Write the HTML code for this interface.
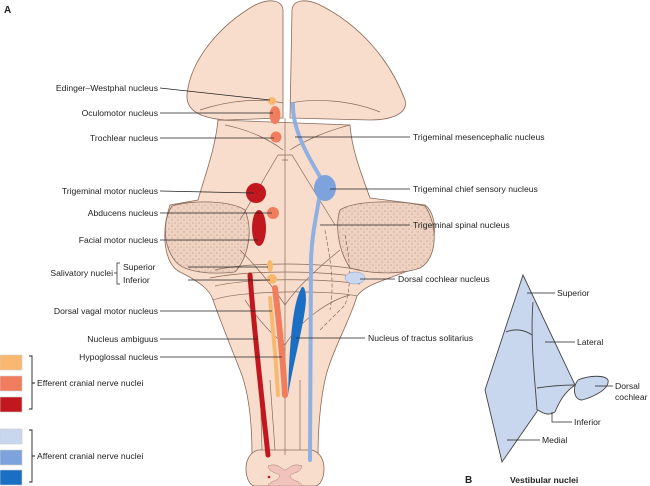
<!DOCTYPE html>
<html><head><meta charset="utf-8"><style>
html,body{margin:0;padding:0;background:#fff;width:650px;height:486px;overflow:hidden}
svg{display:block}
text{font-family:"Liberation Sans",sans-serif;font-size:8.6px;fill:#222}
</style></head><body>
<svg width="650" height="486" viewBox="0 0 650 486" xmlns="http://www.w3.org/2000/svg">
<defs>
<pattern id="st" width="6" height="6" patternUnits="userSpaceOnUse">
<rect width="6" height="6" fill="#efd2c2"/>
<circle cx="1" cy="1" r="0.6" fill="#b89888"/><circle cx="4" cy="4" r="0.6" fill="#b89888"/><circle cx="4" cy="1.5" r="0.4" fill="#c8a898"/>
</pattern>
</defs>
<g stroke="#8a6a5a" stroke-width="0.8" fill="#f8ddcc">
<!-- body -->
<path d="M218,120 C215,150 205,175 198,200 L170,205 C160,235 165,265 180,272 C200,282 210,290 213,300 C220,320 228,340 240,370 C248,390 252,420 252,455 L318,455 C318,420 322,390 327,372 C335,345 350,320 357,296 C365,285 380,282 405,272 C440,262 440,215 425,205 L370,198 C360,170 352,150 350,125 Z"/>
<path d="M258,450 C240,455 245,486 255,486 L315,486 C325,486 330,455 312,450 Z"/>
<!-- top lobes -->
<path d="M283,118 L283,10 C282,0 270,-2 255,5 C220,25 190,60 187,95 C186,110 200,118 225,120 Z"/>
<path d="M290,118 L292,10 C293,0 305,-2 320,5 C360,25 390,60 405,100 C408,112 395,120 370,120 Z"/>
</g>
<!-- stippled peduncles -->
<g stroke="#8a6a5a" stroke-width="0.8" fill="url(#st)">
<path d="M172,206 C190,200 230,200 245,210 C255,235 245,262 235,272 C210,275 185,272 176,262 C162,245 163,220 172,206 Z"/>
<path d="M340,210 C355,200 400,200 425,206 C438,225 438,258 420,268 C400,275 370,274 350,268 C338,250 335,225 340,210 Z"/>
</g>
<!-- internal lines -->
<g stroke="#8a6a5a" stroke-width="0.7" fill="none">
<line x1="285" y1="118" x2="285" y2="455"/>
<path d="M200,110 C230,100 260,98 283,103 M290,103 C315,98 350,100 380,112"/>
<path d="M225,125 C250,130 270,140 283,150 M290,150 C305,140 330,130 350,125"/>
<path d="M278,155 L292,155 L335,225 M278,155 L240,220 M282,160 L288,160"/>
<path d="M215,270 C250,262 320,262 360,270 M210,278 C250,270 320,270 365,278 M215,286 C250,278 320,278 360,284"/>
<path d="M213,300 C240,290 330,290 357,296"/>
<path d="M240,250 C260,270 275,290 285,305 C295,290 315,270 340,250"/>
<path d="M245,300 C265,330 280,340 285,345 C300,320 330,300 350,295" stroke-dasharray="0"/>
<path d="M325,230 C330,260 335,280 330,310 M345,235 C350,260 352,285 345,305 L320,330" stroke-dasharray="4,2"/>
<path d="M260,380 L262,450 M300,380 L300,450 M270,380 L275,450"/>
</g>
<!-- spinal cord section -->
<path d="M268,466 C278,462 282,470 285,470 C288,470 292,462 302,466 C300,474 292,472 290,476 C292,482 300,480 302,486 L268,486 C270,480 278,482 280,476 C278,472 270,474 268,466 Z" fill="#f0c4bc" stroke="#a08070" stroke-width="0.5"/>
<circle cx="269" cy="477" r="1.3" fill="#c0181e"/>
<!-- nuclei -->
<g stroke="none">
<path d="M250,275 C254,330 262,400 268,455" stroke="#c0181e" stroke-width="5" fill="none" stroke-linecap="round"/>
<path d="M275,288 C280,330 283,360 285,395" stroke="#f07e5e" stroke-width="6" fill="none" stroke-linecap="round"/>
<path d="M270,298 C273,330 276,360 278,395" stroke="#f9b870" stroke-width="4" fill="none" stroke-linecap="round"/>
<ellipse cx="272" cy="101" rx="4" ry="4" fill="#f9b870"/>
<ellipse cx="275" cy="115" rx="5.5" ry="9" fill="#f07e5e"/>
<circle cx="276" cy="137" r="5.5" fill="#f07e5e"/>
<circle cx="256" cy="193" r="10" fill="#c0181e"/>
<circle cx="273" cy="213" r="6" fill="#f07e5e"/>
<ellipse cx="259" cy="228" rx="7" ry="18" fill="#c0181e"/>
<ellipse cx="270" cy="266" rx="3" ry="6" fill="#f9b870"/>
<circle cx="272" cy="279" r="5" fill="#f9b870"/>
<path d="M293,104 C292,130 310,160 322,180 C318,210 312,230 311,260 L310,460" stroke="#8fb0e0" stroke-width="4" fill="none" stroke-linecap="round"/>
<ellipse cx="325" cy="188" rx="11" ry="13" fill="#7ea3dc"/>
<path d="M302,287 C294,300 290,330 288,395 C294,360 305,320 306,300 C306,290 304,286 302,287 Z" fill="#1a6fc4"/>
<ellipse cx="355" cy="278" rx="10" ry="6" fill="#c8d6ee" stroke="#8a9ab8" stroke-width="0.5"/>
</g>
<!-- leader lines -->
<g stroke="#222" stroke-width="0.7" fill="none">
<line x1="160" y1="88" x2="270" y2="100"/>
<line x1="160" y1="113" x2="273" y2="113"/>
<line x1="160" y1="138" x2="274" y2="138"/>
<line x1="160" y1="191" x2="254" y2="193"/>
<line x1="160" y1="213" x2="272" y2="213"/>
<line x1="160" y1="240" x2="258" y2="240"/>
<line x1="188" y1="267" x2="268" y2="267"/>
<line x1="188" y1="280" x2="270" y2="280"/>
<line x1="160" y1="311" x2="272" y2="311"/>
<line x1="160" y1="339" x2="258" y2="339"/>
<line x1="160" y1="357" x2="282" y2="357"/>
<line x1="410" y1="137" x2="295" y2="137"/>
<line x1="410" y1="189" x2="330" y2="189"/>
<line x1="410" y1="225" x2="320" y2="225"/>
<line x1="395" y1="279" x2="360" y2="279"/>
<line x1="365" y1="338" x2="296" y2="338"/>
<path d="M120,263 L117,263 L117,284 L120,284 M117,273 L114,273"/>
</g>
<g text-anchor="end">
<text x="158" y="91">Edinger–Westphal nucleus</text>
<text x="158" y="116">Oculomotor nucleus</text>
<text x="158" y="141">Trochlear nucleus</text>
<text x="158" y="194">Trigeminal motor nucleus</text>
<text x="158" y="216">Abducens nucleus</text>
<text x="158" y="243">Facial motor nucleus</text>
<text x="113" y="276">Salivatory nuclei</text>
<text x="158" y="314">Dorsal vagal motor nucleus</text>
<text x="158" y="342">Nucleus ambiguus</text>
<text x="158" y="360">Hypoglossal nucleus</text>
</g>
<text x="123" y="270">Superior</text>
<text x="123" y="283">Inferior</text>
<text x="413" y="140">Trigeminal mesencephalic nucleus</text>
<text x="413" y="192">Trigeminal chief sensory nucleus</text>
<text x="413" y="228">Trigeminal spinal nucleus</text>
<text x="398" y="282">Dorsal cochlear nucleus</text>
<text x="368" y="341">Nucleus of tractus solitarius</text>
<text x="4" y="13" style="font-weight:bold;font-size:10px">A</text>
<!-- legend -->
<g stroke="#ccc" stroke-width="0.6">
<rect x="0" y="355" width="22" height="15" fill="#f9b870"/>
<rect x="0" y="376" width="22" height="15" fill="#f07e5e"/>
<rect x="0" y="397" width="22" height="15" fill="#c0181e"/>
<rect x="0" y="429" width="22" height="15" fill="#c8d6ee"/>
<rect x="0" y="450" width="22" height="15" fill="#7ea3dc"/>
<rect x="0" y="470" width="22" height="15" fill="#1a6fc4"/>
</g>
<g stroke="#222" stroke-width="0.9" fill="none">
<path d="M29,356 L32,356 L32,409 L29,409 M32,383 L35,383"/>
<path d="M29,430 L32,430 L32,482 L29,482 M32,456 L35,456"/>
</g>
<text x="37" y="386">Efferent cranial nerve nuclei</text>
<text x="37" y="459">Afferent cranial nerve nuclei</text>
<!-- panel B -->
<g stroke="#444" stroke-width="0.9" fill="#c8d6ee">
<path d="M523,275 L575,385 C565,392 560,400 555,412 C550,415 545,415 538,410 L502,462 L485,390 Z"/>
<path d="M578,380 C590,375 605,375 608,380 C610,390 590,398 582,400 C574,400 572,388 578,380 Z"/>
</g>
<g stroke="#444" stroke-width="0.9" fill="none">
<path d="M506,332 C515,328 525,330 532,335"/>
<path d="M533,302 C530,340 535,380 537,410"/>
<path d="M537,388 C550,386 565,385 575,385"/>
</g>
<g stroke="#222" stroke-width="0.7" fill="none">
<line x1="527" y1="293" x2="555" y2="293"/>
<line x1="545" y1="342" x2="575" y2="342"/>
<line x1="595" y1="386" x2="613" y2="386"/>
<path d="M552,412 L552,422 L572,422"/>
<line x1="507" y1="440" x2="540" y2="440"/>
</g>
<text x="557" y="296">Superior</text>
<text x="577" y="345">Lateral</text>
<text x="615" y="389">Dorsal</text>
<text x="615" y="400">cochlear</text>
<text x="574" y="425">Inferior</text>
<text x="542" y="443">Medial</text>
<text x="465" y="483" style="font-weight:bold;font-size:10px">B</text>
<text x="510" y="483" style="font-weight:bold">Vestibular nuclei</text>
</svg>
</body></html>
